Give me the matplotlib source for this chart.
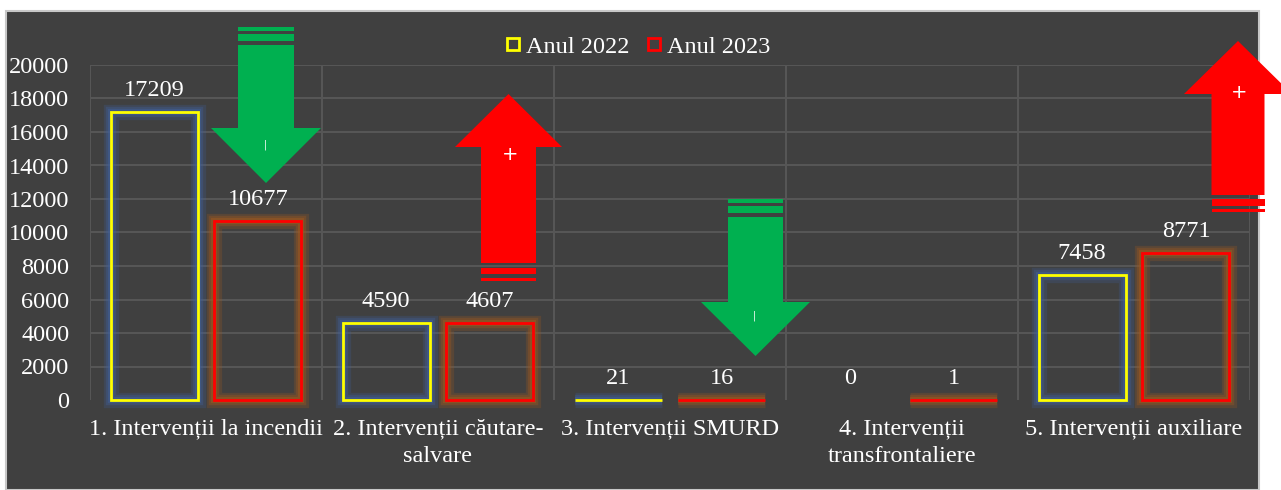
import matplotlib
matplotlib.use("Agg")
import matplotlib.pyplot as plt
from matplotlib.patches import Polygon, Rectangle
from matplotlib.lines import Line2D
import numpy as np

categories = ["1. Intervenții la incendii", "2. Intervenții căutare-\nsalvare",
              "3. Intervenții SMURD", "4. Intervenții\ntransfrontaliere",
              "5. Intervenții auxiliare"]
values_2022 = [17209, 4590, 21, 0, 7458]
values_2023 = [10677, 4607, 16, 1, 8771]
series_names = ["Anul 2022", "Anul 2023"]
yticks = [0, 2000, 4000, 6000, 8000, 10000, 12000, 14000, 16000, 18000, 20000]

W, H = 1281, 490
FONT = ["Liberation Serif", "DejaVu Serif"]
plt.rcParams["font.family"] = FONT

fig = plt.figure(figsize=(W / 100, H / 100), dpi=100, facecolor="white")

def px(x, y):
    return (x / W, 1 - y / H)

# dark panel
panel = Rectangle(px(6, 490), (1259 - 6) / W, (490 - 11) / H, transform=fig.transFigure,
                  facecolor="#404040", edgecolor="#c8c8c8", linewidth=1.5, zorder=-10)
fig.patches.append(panel)

ax = fig.add_axes([90 / W, (490 - 400) / H, (1250 - 90) / W, (400 - 65) / H])
ax.set_facecolor("none")
ax.set_xlim(-0.5, 4.5)
ax.set_ylim(0, 20000)
for s in ax.spines.values():
    s.set_visible(False)

grid_c = "#565656"
for t in yticks[1:]:
    ax.axhline(t, color=grid_c, linewidth=1.5, zorder=0)
for b in np.arange(-0.5, 5.0, 1.0):
    ax.axvline(b, color=grid_c, linewidth=1.5, zorder=0)

x = np.arange(len(categories))
bw = 0.375
off = 0.224
fs = 17.5

def draw_series(vals, xpos, edge, glow):
    for xi, v in zip(xpos, vals):
        if v <= 0:
            continue
        for lw, a in [(11, 0.25), (7.5, 0.35), (4.5, 0.5)]:
            ax.bar(xi, v, bw, facecolor="none", edgecolor=glow, linewidth=lw, alpha=a,
                   zorder=2, clip_on=False)
        ax.bar(xi, v, bw, facecolor="none", edgecolor=edge, linewidth=2.0, zorder=3,
               clip_on=False)
    for xi, v in zip(xpos, vals):
        ax.annotate(str(v), (xi, v), xytext=(0, 8), textcoords="offset points",
                    ha="center", va="bottom", color="white", fontsize=fs)

draw_series(values_2022, x - off, "#ffff00", "#3f5f9a")
draw_series(values_2023, x + off, "#ff0000", "#a0581e")

ax.set_yticks(yticks)
ax.set_yticklabels([str(t) for t in yticks])
ax.set_xticks(x)
ax.set_xticklabels(categories, linespacing=1.45)
ax.tick_params(axis="y", length=0, pad=15, labelsize=fs, labelcolor="white")
ax.tick_params(axis="x", length=0, pad=13, labelsize=fs, labelcolor="white")

handles = [Line2D([], [], marker="s", linestyle="none", markersize=9, markerfacecolor="none",
                  markeredgecolor="#ffff00", markeredgewidth=2),
           Line2D([], [], marker="s", linestyle="none", markersize=9, markerfacecolor="none",
                  markeredgecolor="#ff0000", markeredgewidth=2)]
leg = fig.legend(handles, series_names, loc="center", bbox_to_anchor=px(637, 47), ncol=2,
                 frameon=False, fontsize=fs, labelcolor="white", handletextpad=0.15,
                 columnspacing=0.6, handlelength=0.8)

def arrow(cx, shaft_half, head_half, y_stripe1, y_stripe2, y_shaft_end, y_head_base, y_tip,
          color, sign, sign_pos):
    pts = [px(cx - shaft_half, y_shaft_end), px(cx + shaft_half, y_shaft_end),
           px(cx + shaft_half, y_head_base), px(cx + head_half, y_head_base),
           px(cx, y_tip), px(cx - head_half, y_head_base), px(cx - shaft_half, y_head_base)]
    fig.patches.append(Polygon(pts, closed=True, transform=fig.transFigure, facecolor=color,
                               edgecolor="none", zorder=5))
    for (ya, yb) in (y_stripe1, y_stripe2):
        y0, y1 = min(ya, yb), max(ya, yb)
        fig.patches.append(Rectangle(px(cx - shaft_half, y1), 2 * shaft_half / W, (y1 - y0) / H,
                                     transform=fig.transFigure, facecolor=color,
                                     edgecolor="none", zorder=5))
    if sign == "-":
        fig.text(*px(*sign_pos), "|", color="white", fontsize=7, ha="center", va="center",
                 family="DejaVu Sans", zorder=6)
    else:
        fig.text(*px(*sign_pos), "+", color="white", fontsize=14, ha="center", va="center",
                 family="DejaVu Sans", zorder=6)

green = "#00b050"
red = "#ff0000"
arrow(266, 28, 55, (27, 31), (34, 41), 45, 128, 183, green, "-", (265, 145))
arrow(508.5, 27.5, 53.5, (281, 278), (274, 268), 263, 147, 94, red, "+", (510, 154))
arrow(755.5, 27.5, 54.5, (199, 203), (206, 213), 217, 302, 356, green, "-", (754, 316))
arrow(1238, 26.5, 54, (212, 209), (206, 199), 195, 94, 41, red, "+", (1239, 92))

fig.savefig("out.png", dpi=100, facecolor="white")
